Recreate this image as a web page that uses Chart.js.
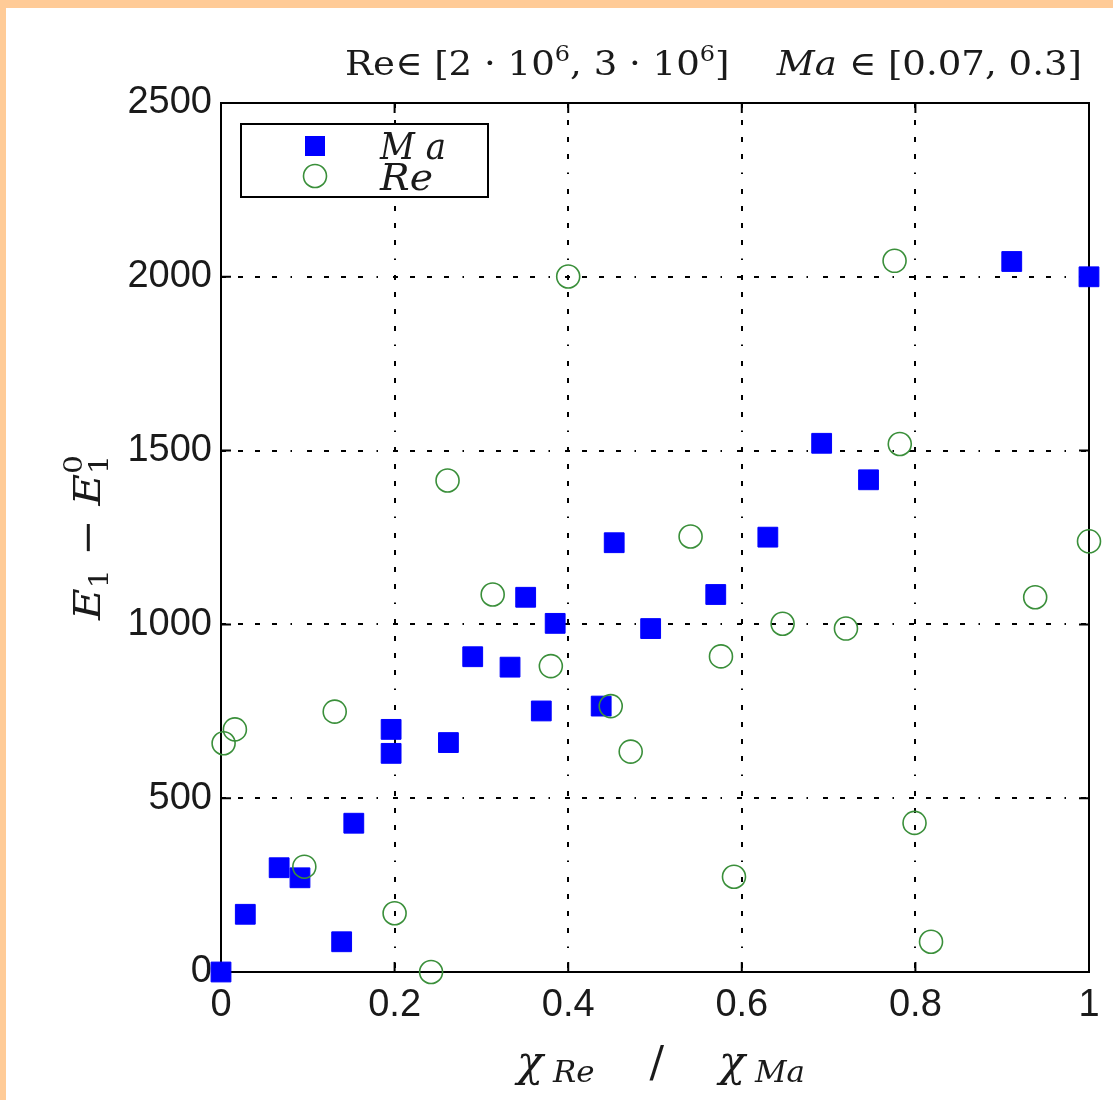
<!DOCTYPE html>
<html>
<head>
<meta charset="utf-8">
<script src="https://cdn.jsdelivr.net/npm/chart.js@4.4.0/dist/chart.umd.min.js"></script>
<style>
  body { margin: 0; background: #ffcb97; width: 1113px; height: 1100px; overflow: hidden; }
  #wrap { position: absolute; left: 6px; top: 8px; width: 1107px; height: 1092px; background: #fff; }
</style>
</head>
<body>
<div id="wrap"><canvas id="chart" width="1107" height="1092"></canvas></div>
<script>
// Ma series (blue squares)
const maX = [0, 0.028, 0.067, 0.091, 0.139, 0.153, 0.196, 0.196, 0.262, 0.290, 0.333, 0.351,
             0.369, 0.385, 0.438, 0.453, 0.495, 0.570, 0.630, 0.692, 0.746, 0.911, 1];
const maY = [0, 166, 300, 271, 87, 428, 698, 629, 660, 907, 877, 1078,
             751, 1003, 765, 1235, 988, 1086, 1251, 1521, 1416, 2044, 2000];

// Re series (green circles)
const reX = [0.003, 0.016, 0.096, 0.131, 0.200, 0.242, 0.261, 0.313, 0.380, 0.400, 0.449, 0.472,
             0.541, 0.576, 0.591, 0.647, 0.720, 0.776, 0.782, 0.799, 0.818, 0.938, 1];
const reY = [658, 698, 303, 749, 169, 0, 1414, 1086, 880, 2001, 765, 634,
             1253, 908, 274, 1002, 988, 2046, 1519, 429, 87, 1078, 1239];

const xTicks = [0, 0.2, 0.4, 0.6, 0.8, 1];
const yTicks = [0, 500, 1000, 1500, 2000, 2500];

const serif = '"DejaVu Serif", "Liberation Serif", serif';
const gridDash = [5, 12, 5, 12, 5, 12, 5, 13.5, 1.5, 15];

// draws a run of text pieces (each with its own font / vertical shift),
// optionally stretched to a given width
function drawRich(ctx, parts, x, y, align, width) {
    let total = 0;
    for (let p of parts) {
        ctx.font = p.font;
        p.w = ctx.measureText(p.t).width;
        total += p.w;
    }
    let k = width ? width / total : 1;
    let full = total * k;
    let x0 = align == 'right' ? x - full : (align == 'center' ? x - full / 2 : x);
    ctx.save();
    ctx.translate(x0, y);
    ctx.scale(k, 1);
    ctx.textBaseline = 'alphabetic';
    ctx.textAlign = 'left';
    let cx = 0;
    for (let p of parts) {
        ctx.font = p.font;
        ctx.fillText(p.t, cx, p.dy || 0);
        p.x = cx;
        cx += p.w;
    }
    ctx.restore();
    return {x0: x0, k: k};
}

const framePlugin = {
    id: 'frame',
    beforeDatasetsDraw(chart) {
        let ctx = chart.ctx;
        let a = chart.chartArea;
        let xs = chart.scales.x, ys = chart.scales.y;
        ctx.save();
        ctx.strokeStyle = '#000';
        ctx.lineWidth = 2;
        ctx.strokeRect(a.left, a.top, a.right - a.left, a.bottom - a.top);
        ctx.beginPath();
        for (let v of xTicks) {
            let px = xs.getPixelForValue(v);
            ctx.moveTo(px, a.bottom); ctx.lineTo(px, a.bottom - 10);
            ctx.moveTo(px, a.top); ctx.lineTo(px, a.top + 10);
        }
        for (let v of yTicks) {
            let py = ys.getPixelForValue(v);
            ctx.moveTo(a.left, py); ctx.lineTo(a.left + 10, py);
            ctx.moveTo(a.right, py); ctx.lineTo(a.right - 10, py);
        }
        ctx.stroke();
        ctx.restore();
    },
    afterDraw(chart) {
        let ctx = chart.ctx;
        let a = chart.chartArea;
        ctx.save();
        ctx.fillStyle = '#1a1a1a';

        // title
        let up = '34px ' + serif, it = 'italic 34px ' + serif, sm = '22px ' + serif;
        drawRich(ctx, [
            {t: 'Re\u2208 [2 \u00b7 10', font: up},
            {t: '6', font: sm, dy: -14},
            {t: ', 3 \u00b7 10', font: up},
            {t: '6', font: sm, dy: -14},
            {t: ']    ', font: up},
            {t: 'Ma', font: it},
            {t: ' \u2208 [0.07, 0.3]', font: up}
        ], 1076, 67, 'right', 737);

        // x axis title
        let chi = 'italic 42px ' + serif, sub = 'italic 30px ' + serif;
        drawRich(ctx, [
            {t: '\u03c7', font: chi},
            {t: ' Re', font: sub, dy: 6},
            {t: '    /    ', font: '42px ' + serif},
            {t: '\u03c7', font: chi},
            {t: ' Ma', font: sub, dy: 6}
        ], 655, 1068, 'center', 288);

        // y axis title (rotated)
        ctx.save();
        ctx.translate(80, (a.top + a.bottom) / 2);
        ctx.rotate(-Math.PI / 2);
        let e = 'italic 38px ' + serif, s2 = '26px ' + serif;
        let parts = [
            {t: 'E', font: e},
            {t: '1', font: s2, dy: 8},
            {t: ' \u2212 ', font: '38px ' + serif},
            {t: 'E', font: e},
            {t: '1', font: s2, dy: 8}
        ];
        let r = drawRich(ctx, parts, 0, 14, 'center', 165);
        // superscript 0 stacked over the last subscript
        ctx.font = s2;
        ctx.save();
        ctx.translate(r.x0, 14);
        ctx.scale(r.k, 1);
        ctx.fillText('0', parts[4].x, -18);
        ctx.restore();
        ctx.restore();

        // legend box
        let lx = a.left + 20, ly = a.top + 21, lw = 247, lh = 73;
        ctx.fillStyle = '#fff';
        ctx.fillRect(lx, ly, lw, lh);
        ctx.strokeStyle = '#000';
        ctx.lineWidth = 2;
        ctx.strokeRect(lx, ly, lw, lh);
        ctx.fillStyle = '#0000ff';
        ctx.fillRect(lx + 74 - 10, ly + 22 - 10, 20, 20);
        ctx.strokeStyle = '#3a8f3a';
        ctx.lineWidth = 1.6;
        ctx.beginPath();
        ctx.arc(lx + 74, ly + 52, 11.5, 0, Math.PI * 2);
        ctx.stroke();
        ctx.fillStyle = '#1a1a1a';
        let lf = 'italic 38px ' + serif;
        drawRich(ctx, [{t: 'M a', font: lf}], lx + 139, ly + 35, 'left', 66);
        drawRich(ctx, [{t: 'Re', font: lf}], lx + 139, ly + 66, 'left', 53);
        ctx.restore();
    }
};

new Chart(document.getElementById('chart'), {
    type: 'scatter',
    data: {
        datasets: [
            {
                label: 'Ma',
                data: maX.map((x, i) => ({x: x, y: maY[i]})),
                pointStyle: 'rect',
                pointRadius: 14,
                pointHoverRadius: 14,
                backgroundColor: '#0000ff',
                borderColor: '#0000ff',
                borderWidth: 1,
                clip: false,
                order: 2
            },
            {
                label: 'Re',
                data: reX.map((x, i) => ({x: x, y: reY[i]})),
                pointStyle: 'circle',
                pointRadius: 11.5,
                pointHoverRadius: 11.5,
                backgroundColor: 'rgba(0,0,0,0)',
                borderColor: '#3a8f3a',
                borderWidth: 1.6,
                clip: false,
                order: 1
            }
        ]
    },
    options: {
        responsive: false,
        animation: false,
        devicePixelRatio: 1,
        layout: { padding: { top: 95, right: 24, bottom: 0, left: 0 } },
        plugins: { legend: { display: false }, tooltip: { enabled: false } },
        scales: {
            x: {
                type: 'linear',
                min: 0, max: 1,
                afterBuildTicks: s => { s.ticks = xTicks.map(v => ({value: v})); },
                afterFit: s => { s.height = 128; },
                ticks: {
                    callback: v => String(v),
                    font: { family: '"Liberation Sans", Arial, sans-serif', size: 38 },
                    color: '#1a1a1a',
                    padding: 11,
                    maxRotation: 0
                },
                grid: { color: '#000', lineWidth: 2, drawTicks: false },
                border: { display: false, dash: gridDash }
            },
            y: {
                type: 'linear',
                min: 0, max: 2500,
                afterBuildTicks: s => { s.ticks = yTicks.map(v => ({value: v})); },
                afterFit: s => { s.width = 215; },
                ticks: {
                    callback: v => String(v),
                    font: { family: '"Liberation Sans", Arial, sans-serif', size: 38 },
                    color: '#1a1a1a',
                    padding: 9
                },
                grid: { color: '#000', lineWidth: 2, drawTicks: false },
                border: { display: false, dash: gridDash }
            }
        }
    },
    plugins: [framePlugin]
});
</script>
</body>
</html>
